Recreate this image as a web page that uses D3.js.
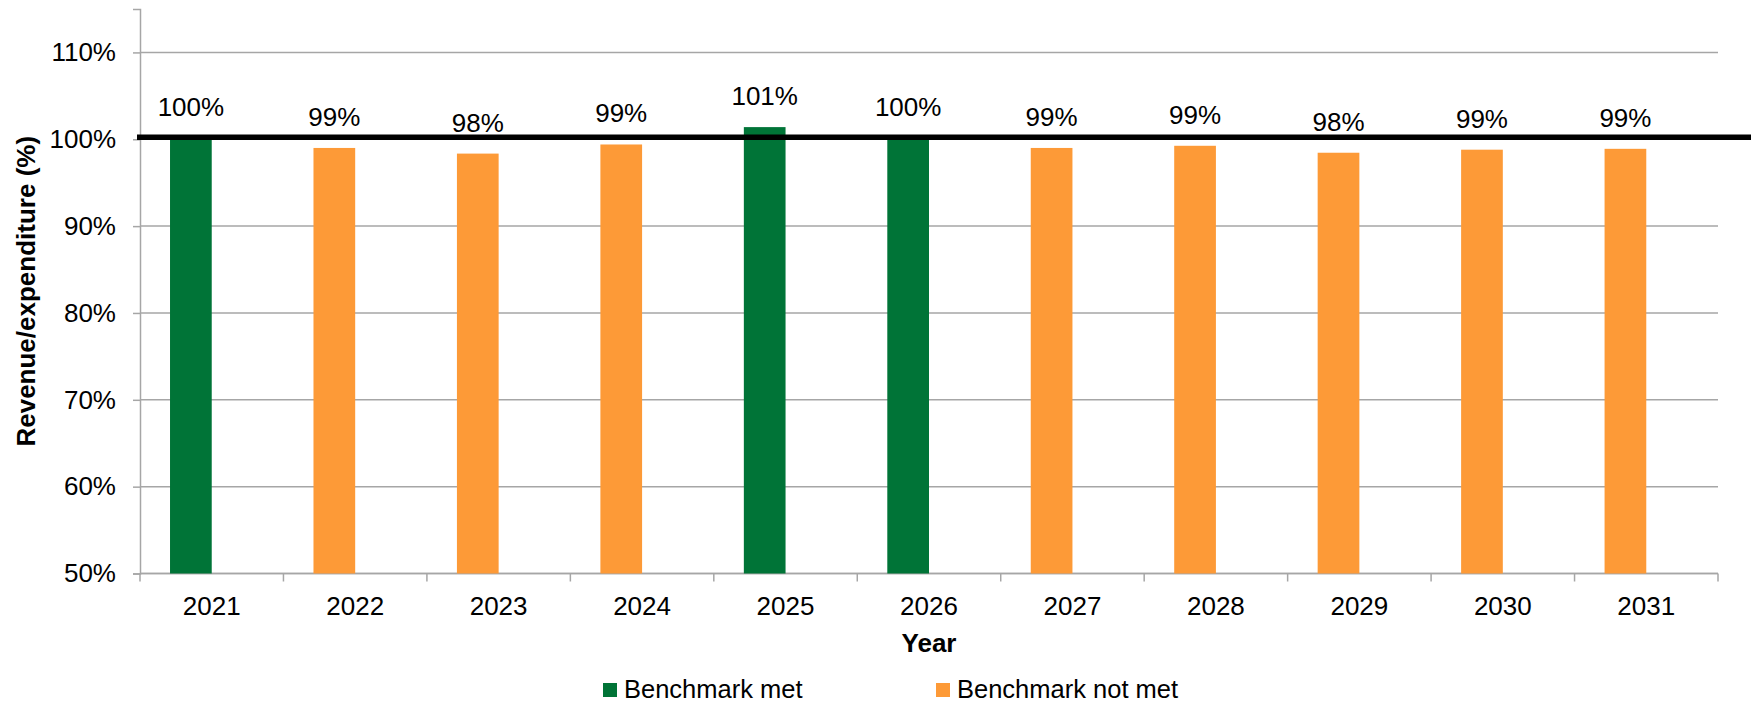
<!DOCTYPE html>
<html>
<head>
<meta charset="utf-8">
<script src="https://cdn.jsdelivr.net/npm/d3@7"></script>
<style>
  html, body { margin: 0; padding: 0; background: #fff; }
  svg { display: block; font-family: "Liberation Sans", Arial, sans-serif; }
</style>
</head>
<body>
<svg id="chart" width="1751" height="704"></svg>
<script>
// Revenue / expenditure ratio by year (%)
const years = ["2021", "2022", "2023", "2024", "2025", "2026", "2027", "2028", "2029", "2030", "2031"];
const ratios = [100.1, 99.0, 98.35, 99.4, 101.4, 100.1, 99.0, 99.25, 98.45, 98.8, 98.9];
const benchmark = 100;
const yTicks = [50, 60, 70, 80, 90, 100, 110];
const legendItems = ["Benchmark met", "Benchmark not met"];
const colors = { "Benchmark met": "#007437", "Benchmark not met": "#fd9a37" };

const svg = d3.select("#chart");
const W = 1751;
const plot = { left: 140, right: 1718, top: 9, bottom: 573.5 };
const fontSize = 26;

const x = d3.scaleBand().domain(years).range([plot.left, plot.right]).padding(0);
// each year holds two slots; the ratio bar sits in the first one
const slot = d3.scaleBand().domain(["ratio", "spare"]).range([0, x.bandwidth()])
  .paddingInner(0).paddingOuter(0.72);
const y = d3.scaleLinear().domain([50, 115]).range([plot.bottom, plot.top]);

const gridColor = "#a6a6a6";

// horizontal gridlines
svg.append("g").selectAll("line").data(yTicks).join("line")
  .attr("x1", plot.left).attr("x2", plot.right)
  .attr("y1", d => y(d)).attr("y2", d => y(d))
  .attr("stroke", gridColor).attr("stroke-width", 1.5);

// y axis
const yAxis = svg.append("g").attr("transform", `translate(${plot.left},0)`)
  .call(d3.axisLeft(y).tickValues(yTicks).tickSize(7).tickPadding(17)
    .tickFormat(d => d + "%"));
yAxis.select(".domain").attr("stroke", gridColor).attr("stroke-width", 1.5);
yAxis.selectAll(".tick line").attr("stroke", gridColor).attr("stroke-width", 1.5);
yAxis.selectAll(".tick text").attr("font-size", fontSize).attr("fill", "#000")
  .attr("font-family", "Liberation Sans, Arial, sans-serif");

// x axis with ticks on the category boundaries
const xAxisG = svg.append("g").attr("transform", `translate(0,${plot.bottom})`);
xAxisG.append("line").attr("x1", plot.left).attr("x2", plot.right)
  .attr("stroke", gridColor).attr("stroke-width", 1.5);
const boundaries = years.map(d => x(d)).concat([x(years[years.length - 1]) + x.bandwidth()]);
xAxisG.selectAll("line.tk").data(boundaries).join("line").attr("class", "tk")
  .attr("x1", d => d).attr("x2", d => d).attr("y1", 0).attr("y2", 8)
  .attr("stroke", gridColor).attr("stroke-width", 1.5);
xAxisG.selectAll("text").data(years).join("text")
  .attr("x", d => x(d) + x.bandwidth() / 2).attr("y", 41)
  .attr("text-anchor", "middle").attr("font-size", fontSize).attr("fill", "#000")
  .text(d => d);

// bars
const data = years.map((yr, i) => ({
  year: yr, value: ratios[i],
  status: ratios[i] >= benchmark ? legendItems[0] : legendItems[1]
}));
svg.append("g").selectAll("rect").data(data).join("rect")
  .attr("x", d => x(d.year) + slot("ratio"))
  .attr("width", slot.bandwidth())
  .attr("y", d => y(d.value))
  .attr("height", d => y(50) - y(d.value))
  .attr("fill", d => colors[d.status]);

// benchmark line
svg.append("line")
  .attr("x1", plot.left - 3).attr("x2", W)
  .attr("y1", y(benchmark) - 2).attr("y2", y(benchmark) - 2)
  .attr("stroke", "#000").attr("stroke-width", 5.5);

// value labels
const fmt = d3.format(".0%");
svg.append("g").selectAll("text").data(data).join("text")
  .attr("x", d => x(d.year) + slot("ratio") + slot.bandwidth() / 2)
  .attr("y", d => y(d.value) - 22)
  .attr("text-anchor", "middle").attr("font-size", fontSize).attr("fill", "#000")
  .text(d => fmt(d.value / 100));

// axis titles
svg.append("text")
  .attr("x", (plot.left + plot.right) / 2).attr("y", 652)
  .attr("text-anchor", "middle").attr("font-size", 26).attr("font-weight", "bold")
  .text("Year");
svg.append("text")
  .attr("transform", `translate(35,${(plot.top + plot.bottom) / 2}) rotate(-90)`)
  .attr("text-anchor", "middle").attr("font-size", 26).attr("font-weight", "bold")
  .text("Revenue/expenditure (%)");

// legend
const legendX = [603, 936];
const lg = svg.append("g").selectAll("g").data(legendItems).join("g")
  .attr("transform", (d, i) => `translate(${legendX[i]},683)`);
lg.append("rect").attr("width", 14).attr("height", 14).attr("fill", d => colors[d]);
lg.append("text").attr("x", 21).attr("y", 14.5).attr("font-size", 25.5).attr("fill", "#000")
  .text(d => d);
</script>
</body>
</html>
